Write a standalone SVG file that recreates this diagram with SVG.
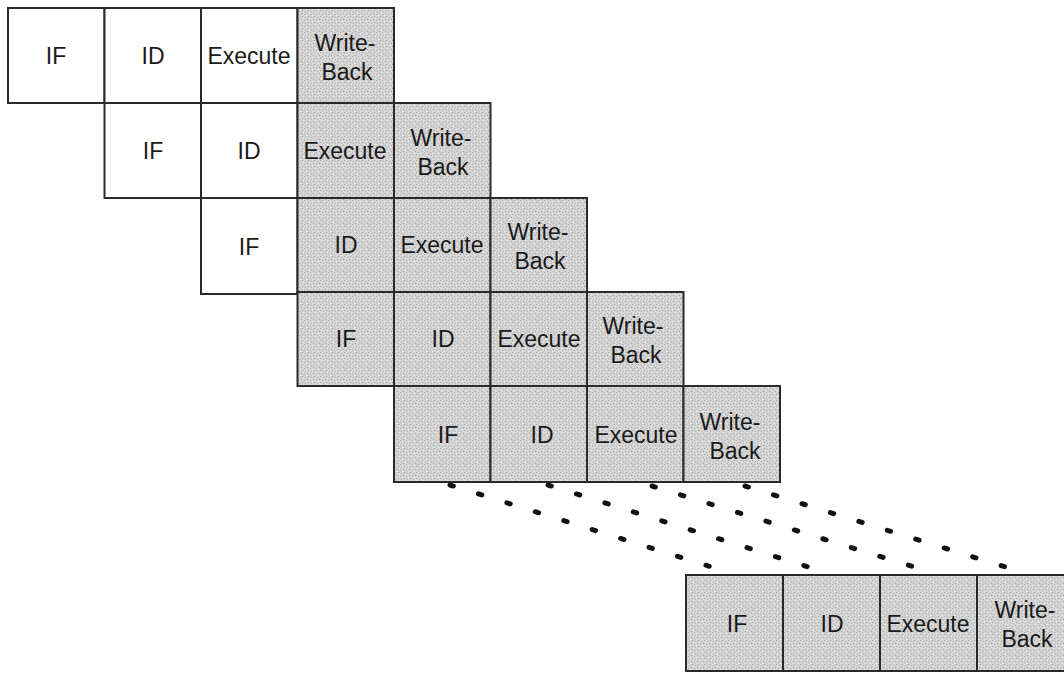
<svg xmlns="http://www.w3.org/2000/svg" width="1064" height="673" viewBox="0 0 1064 673">
  <defs>
    <!-- stippled grey used for the shaded stages -->
    <pattern id="stipple" width="6" height="6" patternUnits="userSpaceOnUse">
      <rect width="6" height="6" fill="#d3d3d3"/>
      <rect x="1" y="1" width="1" height="1" fill="#a4a4a4"/>
      <rect x="4" y="2" width="1" height="1" fill="#b0b0b0"/>
      <rect x="2" y="4" width="1" height="1" fill="#a8a8a8"/>
      <rect x="5" y="5" width="1" height="1" fill="#b8b8b8"/>
      <rect x="0" y="3" width="1" height="1" fill="#ededed"/>
      <rect x="3" y="0" width="1" height="1" fill="#eaeaea"/>
    </pattern>
  </defs>
  <style>
    .cell { stroke: #2a2a2a; stroke-width: 2; }
    .white { fill: #ffffff; }
    .gray { fill: url(#stipple); }
    .lbl { font-family: "Liberation Sans", Arial, sans-serif; font-size: 23px; fill: #1a1a1a; text-anchor: middle; }
    .dots { stroke: #111; stroke-width: 5; stroke-linecap: round; stroke-dasharray: 3.5 26.3; fill: none; }
  </style>
  <rect width="1064" height="673" fill="#ffffff"/>

  <!-- instruction 1 -->
  <g id="i1-if"><rect class="cell white" x="8" y="8" width="96.5" height="95"/><text class="lbl" x="56" y="64">IF</text></g>
  <g id="i1-id"><rect class="cell white" x="104.5" y="8" width="96.5" height="95"/><text class="lbl" x="153" y="64">ID</text></g>
  <g id="i1-ex"><rect class="cell white" x="201" y="8" width="96.5" height="95"/><text class="lbl" x="249" y="64">Execute</text></g>
  <g id="i1-wb"><rect class="cell gray" x="297.5" y="8" width="96.5" height="95"/><text class="lbl" x="345" y="51">Write-</text><text class="lbl" x="347" y="80">Back</text></g>

  <!-- instruction 2 -->
  <g id="i2-if"><rect class="cell white" x="104.5" y="103" width="96.5" height="95"/><text class="lbl" x="153" y="159">IF</text></g>
  <g id="i2-id"><rect class="cell white" x="201" y="103" width="96.5" height="95"/><text class="lbl" x="249" y="159">ID</text></g>
  <g id="i2-ex"><rect class="cell gray" x="297.5" y="103" width="96.5" height="95"/><text class="lbl" x="345" y="159">Execute</text></g>
  <g id="i2-wb"><rect class="cell gray" x="394" y="103" width="96.5" height="95"/><text class="lbl" x="441" y="146">Write-</text><text class="lbl" x="443" y="175">Back</text></g>

  <!-- instruction 3 -->
  <g id="i3-if"><rect class="cell white" x="201" y="198" width="96.5" height="96"/><text class="lbl" x="249" y="255">IF</text></g>
  <g id="i3-id"><rect class="cell gray" x="297.5" y="198" width="96.5" height="94"/><text class="lbl" x="346" y="253">ID</text></g>
  <g id="i3-ex"><rect class="cell gray" x="394" y="198" width="96.5" height="94"/><text class="lbl" x="442" y="253">Execute</text></g>
  <g id="i3-wb"><rect class="cell gray" x="490.5" y="198" width="96.5" height="94"/><text class="lbl" x="538" y="240">Write-</text><text class="lbl" x="540" y="269">Back</text></g>

  <!-- instruction 4 -->
  <g id="i4-if"><rect class="cell gray" x="297.5" y="292" width="96.5" height="94"/><text class="lbl" x="346" y="347">IF</text></g>
  <g id="i4-id"><rect class="cell gray" x="394" y="292" width="96.5" height="94"/><text class="lbl" x="443" y="347">ID</text></g>
  <g id="i4-ex"><rect class="cell gray" x="490.5" y="292" width="96.5" height="94"/><text class="lbl" x="539" y="347">Execute</text></g>
  <g id="i4-wb"><rect class="cell gray" x="587" y="292" width="96.5" height="94"/><text class="lbl" x="633" y="334">Write-</text><text class="lbl" x="636" y="363">Back</text></g>

  <!-- instruction 5 -->
  <g id="i5-if"><rect class="cell gray" x="394" y="386" width="96.5" height="96"/><text class="lbl" x="448" y="443">IF</text></g>
  <g id="i5-id"><rect class="cell gray" x="490.5" y="386" width="96.5" height="96"/><text class="lbl" x="542" y="443">ID</text></g>
  <g id="i5-ex"><rect class="cell gray" x="587" y="386" width="96.5" height="96"/><text class="lbl" x="636" y="443">Execute</text></g>
  <g id="i5-wb"><rect class="cell gray" x="683.5" y="386" width="96.5" height="96"/><text class="lbl" x="730" y="430">Write-</text><text class="lbl" x="735" y="459">Back</text></g>

  <!-- instruction n -->
  <g id="in-if"><rect class="cell gray" x="686" y="575" width="97" height="96"/><text class="lbl" x="737" y="632">IF</text></g>
  <g id="in-id"><rect class="cell gray" x="783" y="575" width="97" height="96"/><text class="lbl" x="832" y="632">ID</text></g>
  <g id="in-ex"><rect class="cell gray" x="880" y="575" width="97" height="96"/><text class="lbl" x="928" y="632">Execute</text></g>
  <g id="in-wb"><rect class="cell gray" x="977" y="575" width="97" height="96"/><text class="lbl" x="1025" y="618">Write-</text><text class="lbl" x="1027" y="647">Back</text></g>

  <!-- continuation connectors -->
  <g id="connectors">
    <line class="dots" x1="450" y1="485" x2="718" y2="569"/>
    <line class="dots" x1="548" y1="485" x2="818" y2="570"/>
    <line class="dots" x1="652" y1="486" x2="924" y2="570"/>
    <line class="dots" x1="745" y1="486" x2="1015" y2="570"/>
  </g>
</svg>
